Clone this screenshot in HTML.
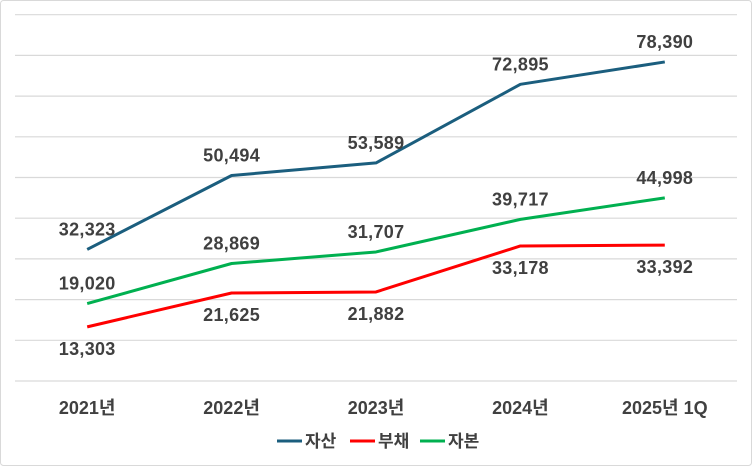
<!DOCTYPE html>
<html><head><meta charset="utf-8"><style>
body{margin:0;background:#fff;}
svg{display:block;font-family:"Liberation Sans","Noto Sans CJK KR",sans-serif;}
</style></head><body>
<svg width="752" height="466" viewBox="0 0 752 466">
<rect x="0.5" y="0.5" width="751" height="465" rx="3" fill="#fff" stroke="#d9d9d9"/>
<g id="grid"></g><g id="lines"></g><g id="labels"></g><g id="xlabels"></g>
<g id="legend"></g>
</svg>
<script>
const categories=["2021년","2022년","2023년","2024년","2025년 1Q"];
const assets=[32323,50494,53589,72895,78390];
const liabilities=[13303,21625,21882,33178,33392];
const equity=[19020,28869,31707,39717,44998];
const seriesNames=["자산","부채","자본"];
const yTicks=[0,10000,20000,30000,40000,50000,60000,70000,80000,90000];
const NS="http://www.w3.org/2000/svg";
const L=15,R=737,T=14.7,B=381;
const yMax=90000;
function y(v){return B-(v/yMax)*(B-T);}
function x(i){const w=(R-L)/categories.length;return L+w*(i+0.5);}
function mk(t,a,p){const e=document.createElementNS(NS,t);for(const k in a)e.setAttribute(k,a[k]);p.appendChild(e);return e;}
const grid=document.getElementById('grid');
yTicks.forEach(v=>{const l=mk('line',{x1:L,x2:R,y1:y(v),y2:y(v),stroke:'#d9d9d9','stroke-width':1.2},grid);

});
const series=[{d:assets,c:'#1b5e7e',pos:-1,n:'assets-line'},{d:liabilities,c:'#ff0000',pos:1,n:'liabilities-line'},{d:equity,c:'#00b050',pos:-1,n:'equity-line'}];
const lines=document.getElementById('lines'),labels=document.getElementById('labels');
series.forEach(s=>{
const p=mk('polyline',{points:s.d.map((v,i)=>x(i)+','+y(v)).join(' '),fill:'none',stroke:s.c,'stroke-width':3,'stroke-linejoin':'round'},lines);


s.d.forEach((v,i)=>{const t=mk('text',{x:x(i),y:y(v)+(s.pos<0?-14:28),'text-anchor':'middle','font-size':18,fill:'#404040','font-weight':'bold','letter-spacing':'0.3'},labels);
t.textContent=v.toLocaleString('en-US');

});
});
const xl=document.getElementById('xlabels');
categories.forEach((c,i)=>{const t=mk('text',{x:x(i),y:414,'text-anchor':'middle','font-size':18,fill:'#404040','font-weight':'bold'},xl);
t.textContent=c;

});
const lg=document.getElementById('legend');
const lx=[277,350,420];
series.forEach((s,i)=>{
const g=mk('g',{},lg);


mk('line',{x1:lx[i],x2:lx[i]+25,y1:441,y2:441,stroke:s.c,'stroke-width':3},g);
const t=mk('text',{x:lx[i]+28,y:447,'font-size':17,fill:'#404040','font-weight':'bold'},g);
t.textContent=seriesNames[i];});
</script>
</body></html>
